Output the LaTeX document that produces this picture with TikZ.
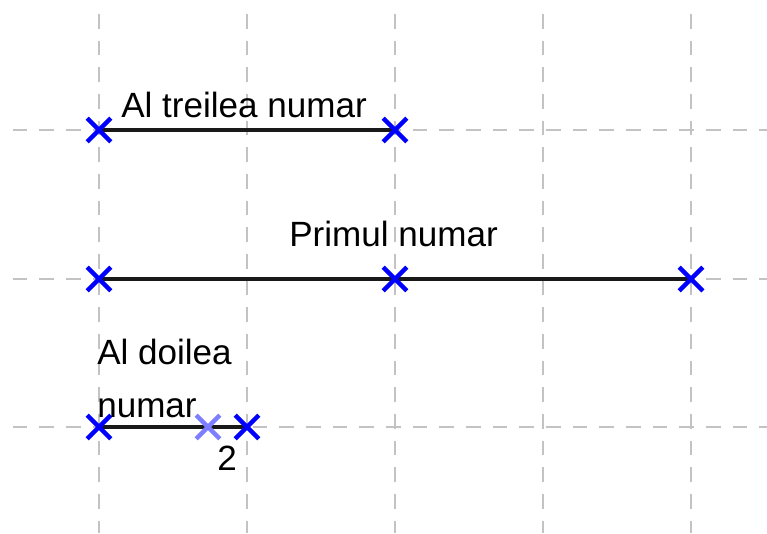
\documentclass[tikz,border=0pt]{standalone}
\usepackage{fontspec}
\setmainfont{Liberation Sans}
\usetikzlibrary{shapes.misc}
\definecolor{gridgray}{RGB}{195,195,195}
\definecolor{segblack}{RGB}{25,25,25}
\definecolor{xblue}{RGB}{0,0,255}
\definecolor{xlight}{RGB}{125,125,255}
\tikzset{
  gridline/.style={gridgray, line width=1.9pt, dash pattern=on 11pt off 9pt},
  segment/.style={segblack, line width=2.3pt},
  xmark/.style={cross out, draw=xblue, line width=3.3pt, minimum size=14.5pt, inner sep=0pt},
  xmarklight/.style={xmark, draw=xlight},
  lbl/.style={anchor=base west, inner sep=0pt, font=\fontsize{26.3}{31}\selectfont, text=black},
}
\begin{document}
\begin{tikzpicture}[x=0.75pt, y=-0.75pt]
\useasboundingbox (0,0) rectangle (767,533);
% grid
\foreach \gx in {99,247,395,543,691} \draw[gridline] (\gx,14) -- (\gx,533);
\foreach \gy in {130,279,427} \draw[gridline] (12.7,\gy) -- (767,\gy);
% points
\coordinate (A1) at (99,130);
\coordinate (A2) at (395,130);
\coordinate (B1) at (99,279);
\coordinate (B2) at (395,279);
\coordinate (B3) at (691,279);
\coordinate (C1) at (99,427);
\coordinate (C2) at (208,427);
\coordinate (C3) at (247,427);
% segments
\draw[segment] (A1) -- (A2);
\draw[segment] (B1) -- (B3);
\draw[segment] (C1) -- (C3);
% markers
\node[xmark] (xa1) at (A1) {};
\node[xmark] (xa2) at (A2) {};
\node[xmark] (xb1) at (B1) {};
\node[xmark] (xb2) at (B2) {};
\node[xmark] (xb3) at (B3) {};
\node[xmark] (xc1) at (C1) {};
\node[xmarklight] (xc2) at (C2) {};
\node[xmark] (xc3) at (C3) {};
% labels
\node[lbl] (t1) at (121,117) {Al treilea numar};
\node[lbl] (t2) at (289,246) {Primul numar};
\node[lbl] (t3a) at (97,364) {Al doilea};
\node[lbl] (t3b) at (97,417) {numar};
\node[lbl] (t4) at (217,470) {2};
\end{tikzpicture}
\end{document}
